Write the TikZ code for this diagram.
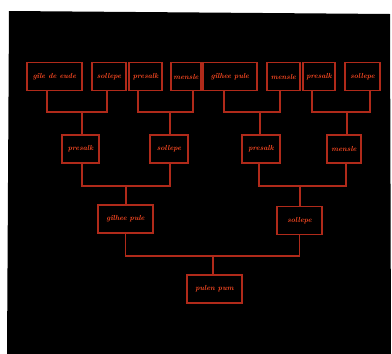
\documentclass[tikz,border=0pt]{standalone}
\begin{document}
\begin{tikzpicture}[x=1pt,y=-1pt,
  box/.style={draw=boxred, line width=1.15pt, minimum height=28pt, inner sep=0pt,
    text=textred, font=\fontsize{7.3}{8}\selectfont\itshape\bfseries},
  wire/.style={draw=boxred, line width=1.15pt}]
\definecolor{boxred}{HTML}{B02A1A}
\definecolor{textred}{HTML}{FF4A22}
\useasboundingbox (0,0) rectangle (392,354);
\fill[white] (0,0) rectangle (392,354);
\fill[black] (9,11) -- (390,14) -- (391,354) -- (7,354) -- cycle;
% row 1
\node[box, minimum width=55pt] (a1) at (54.5,76.5) {gîle de eude};
\node[box, minimum width=34pt] (a2) at (109,76.5) {sollepe};
\node[box, minimum width=33pt] (a3) at (145.5,76.5) {presalk};
\node[box, minimum width=30pt] (a4) at (186,76.5) {mensle};
\node[box, minimum width=54pt] (a5) at (230,76.5) {gîlhee pule};
\node[box, minimum width=33pt] (a6) at (283.5,76.5) {mensle};
\node[box, minimum width=32pt] (a7) at (319,76.5) {presalk};
\node[box, minimum width=35pt] (a8) at (362.5,76.5) {sollepe};
% row 2
\node[box, minimum width=37pt] (b1) at (80.5,149) {presalk};
\node[box, minimum width=38pt] (b2) at (169,149) {sollepe};
\node[box, minimum width=38pt] (b3) at (261,149) {presalk};
\node[box, minimum width=34pt] (b4) at (344,149) {mensle};
% row 3
\node[box, minimum width=55pt] (c1) at (125.5,219) {gîlhee pule};
\node[box, minimum width=45pt] (c2) at (299.5,220.5) {sollepe};
% root
\node[box, minimum width=55pt] (d1) at (214.5,289) {pulen pum};
% junctions
\coordinate (j1) at (82,112);
\coordinate (j2) at (170,112);
\coordinate (j3) at (260,112);
\coordinate (j4) at (347,112);
\coordinate (k1) at (126,186);
\coordinate (k2) at (300,186);
\coordinate (m1) at (213,256);
% wires row1 -> row2
\draw[wire] ([xshift=-7.5pt]a1.south) |- (j1) -| ([xshift=-2pt]a2.south);
\draw[wire] (j1) -- (j1 |- b1.north);
\draw[wire] ([xshift=-7.5pt]a3.south) |- (j2) -| ([xshift=7pt]a4.south);
\draw[wire] (j2) -- (j2 |- b2.north);
\draw[wire] ([xshift=-6pt]a5.south) |- (j3) -| ([xshift=-3.5pt]a6.south);
\draw[wire] (j3) -- (j3 |- b3.north);
\draw[wire] ([xshift=-7pt]a7.south) |- (j4) -| ([xshift=7.5pt]a8.south);
\draw[wire] (j4) -- (j4 |- b4.north);
% row2 -> row3
\draw[wire] ([xshift=1.5pt]b1.south) |- (k1) -| ([xshift=1pt]b2.south);
\draw[wire] (k1) -- (k1 |- c1.north);
\draw[wire] ([xshift=-2pt]b3.south) |- (k2) -| ([xshift=2pt]b4.south);
\draw[wire] (k2) -- (k2 |- c2.north);
% row3 -> root
\draw[wire] (c1.south) |- (m1) -| (c2.south);
\draw[wire] (m1) -- (m1 |- d1.north);
\end{tikzpicture}
\end{document}
